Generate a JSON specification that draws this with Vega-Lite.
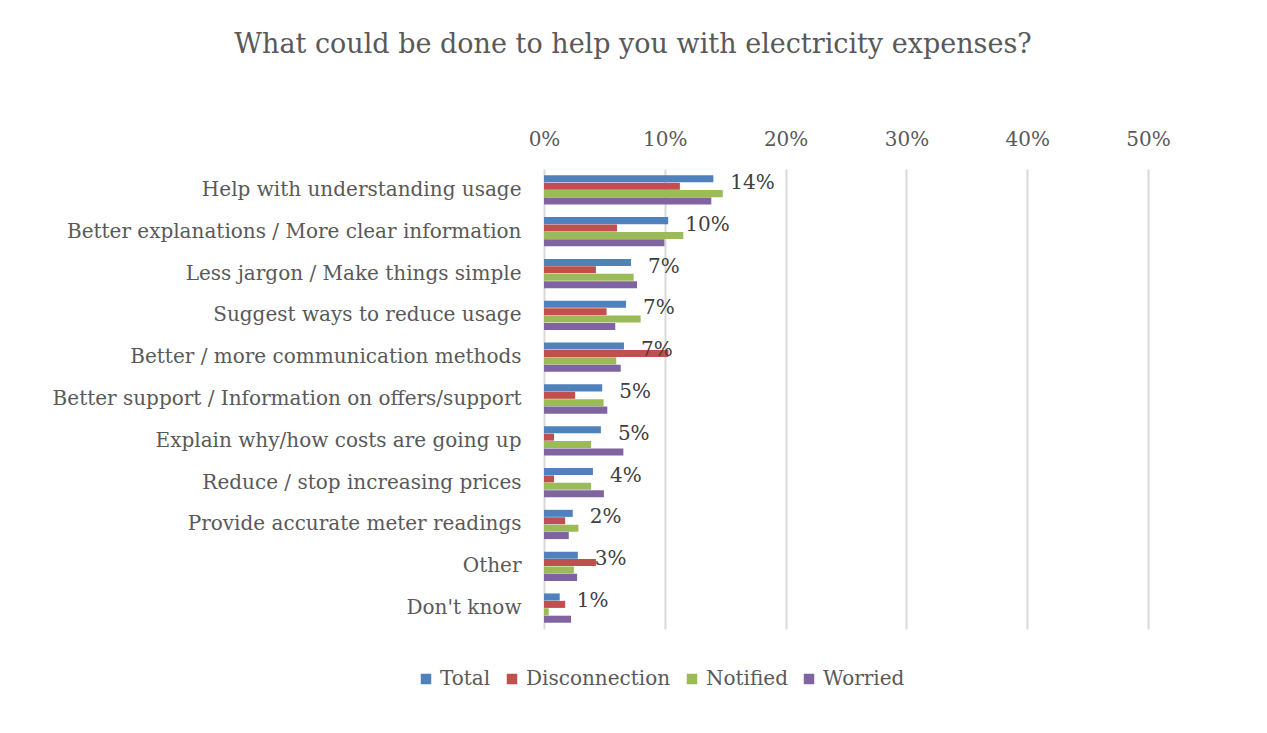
{
  "$schema": "https://vega.github.io/schema/vega-lite/v6.json",
  "width": 604,
  "height": 460,
  "autosize": {"type": "none"},
  "padding": {"left": 544, "top": 169, "right": 119, "bottom": 104},
  "background": "white",
  "title": {
    "text": "What could be done to help you with electricity expenses?",
    "font": "DejaVu Serif",
    "fontSize": 27,
    "fontWeight": "normal",
    "color": "#595959",
    "anchor": "middle",
    "dx": -213,
    "offset": 70
  },
  "config": {
    "view": {"stroke": null},
    "font": "DejaVu Serif"
  },
  "data": {
    "values": [
      {"category": "Help with understanding usage", "series": "Total", "value": 0.1402},
      {"category": "Help with understanding usage", "series": "Disconnection", "value": 0.1125},
      {"category": "Help with understanding usage", "series": "Notified", "value": 0.148},
      {"category": "Help with understanding usage", "series": "Worried", "value": 0.1385},
      {"category": "Better explanations / More clear information", "series": "Total", "value": 0.1028},
      {"category": "Better explanations / More clear information", "series": "Disconnection", "value": 0.0604},
      {"category": "Better explanations / More clear information", "series": "Notified", "value": 0.1153},
      {"category": "Better explanations / More clear information", "series": "Worried", "value": 0.0997},
      {"category": "Less jargon / Make things simple", "series": "Total", "value": 0.072},
      {"category": "Less jargon / Make things simple", "series": "Disconnection", "value": 0.043},
      {"category": "Less jargon / Make things simple", "series": "Notified", "value": 0.0742},
      {"category": "Less jargon / Make things simple", "series": "Worried", "value": 0.077},
      {"category": "Suggest ways to reduce usage", "series": "Total", "value": 0.0679},
      {"category": "Suggest ways to reduce usage", "series": "Disconnection", "value": 0.0518},
      {"category": "Suggest ways to reduce usage", "series": "Notified", "value": 0.08},
      {"category": "Suggest ways to reduce usage", "series": "Worried", "value": 0.059},
      {"category": "Better / more communication methods", "series": "Total", "value": 0.0662},
      {"category": "Better / more communication methods", "series": "Disconnection", "value": 0.103},
      {"category": "Better / more communication methods", "series": "Notified", "value": 0.0598},
      {"category": "Better / more communication methods", "series": "Worried", "value": 0.0635},
      {"category": "Better support / Information on offers/support", "series": "Total", "value": 0.0482},
      {"category": "Better support / Information on offers/support", "series": "Disconnection", "value": 0.0258},
      {"category": "Better support / Information on offers/support", "series": "Notified", "value": 0.0493},
      {"category": "Better support / Information on offers/support", "series": "Worried", "value": 0.0524},
      {"category": "Explain why/how costs are going up", "series": "Total", "value": 0.0471},
      {"category": "Explain why/how costs are going up", "series": "Disconnection", "value": 0.0083},
      {"category": "Explain why/how costs are going up", "series": "Notified", "value": 0.039},
      {"category": "Explain why/how costs are going up", "series": "Worried", "value": 0.0657},
      {"category": "Reduce / stop increasing prices", "series": "Total", "value": 0.0405},
      {"category": "Reduce / stop increasing prices", "series": "Disconnection", "value": 0.0083},
      {"category": "Reduce / stop increasing prices", "series": "Notified", "value": 0.039},
      {"category": "Reduce / stop increasing prices", "series": "Worried", "value": 0.0496},
      {"category": "Provide accurate meter readings", "series": "Total", "value": 0.0238},
      {"category": "Provide accurate meter readings", "series": "Disconnection", "value": 0.0175},
      {"category": "Provide accurate meter readings", "series": "Notified", "value": 0.0285},
      {"category": "Provide accurate meter readings", "series": "Worried", "value": 0.0205},
      {"category": "Other", "series": "Total", "value": 0.028},
      {"category": "Other", "series": "Disconnection", "value": 0.043},
      {"category": "Other", "series": "Notified", "value": 0.0247},
      {"category": "Other", "series": "Worried", "value": 0.0274},
      {"category": "Don't know", "series": "Total", "value": 0.013},
      {"category": "Don't know", "series": "Disconnection", "value": 0.0175},
      {"category": "Don't know", "series": "Notified", "value": 0.0039},
      {"category": "Don't know", "series": "Worried", "value": 0.0224}
    ]
  },
  "encoding": {
    "y": {
      "field": "category",
      "type": "nominal",
      "sort": null,
      "scale": {"paddingInner": 0.3, "paddingOuter": 0.15},
      "axis": {
        "title": null,
        "labelFont": "DejaVu Serif",
        "labelFontSize": 20,
        "labelColor": "#595959",
        "labelPadding": 23,
        "ticks": false,
        "domain": false,
        "labelLimit": 600
      }
    },
    "x": {
      "field": "value",
      "type": "quantitative",
      "scale": {"domain": [0, 0.5], "nice": false},
      "axis": {
        "orient": "top",
        "title": null,
        "format": ".0%",
        "values": [0, 0.1, 0.2, 0.3, 0.4, 0.5],
        "labelFont": "DejaVu Serif",
        "labelFontSize": 20,
        "labelColor": "#595959",
        "labelPadding": 20,
        "labelFlush": false,
        "ticks": false,
        "domain": false,
        "grid": true,
        "gridColor": "#d9d9d9",
        "gridWidth": 2
      }
    }
  },
  "layer": [
    {
      "mark": {"type": "bar"},
      "encoding": {
        "yOffset": {
          "field": "series",
          "type": "nominal",
          "sort": ["Total", "Disconnection", "Notified", "Worried"],
          "scale": {"paddingInner": 0.05, "paddingOuter": 0}
        },
        "color": {
          "field": "series",
          "type": "nominal",
          "scale": {
            "domain": ["Total", "Disconnection", "Notified", "Worried"],
            "range": ["#4f81bd", "#c0504d", "#9bbb59", "#8064a2"]
          },
          "legend": {
            "orient": "none",
            "legendX": -128,
            "legendY": 500,
            "direction": "horizontal",
            "title": null,
            "symbolType": "square",
            "symbolSize": 110,
            "symbolStrokeWidth": 0,
            "labelFont": "DejaVu Serif",
            "labelFontSize": 20,
            "labelColor": "#595959",
            "columnPadding": 11,
            "labelOffset": 4
          }
        }
      }
    },
    {
      "transform": [{"filter": "datum.series === 'Total'"}],
      "mark": {
        "type": "text",
        "align": "left",
        "baseline": "middle",
        "dx": 17,
        "dy": -7,
        "font": "DejaVu Serif",
        "fontSize": 20,
        "color": "#404040"
      },
      "encoding": {
        "text": {"field": "value", "type": "quantitative", "format": ".0%"}
      }
    }
  ]
}
